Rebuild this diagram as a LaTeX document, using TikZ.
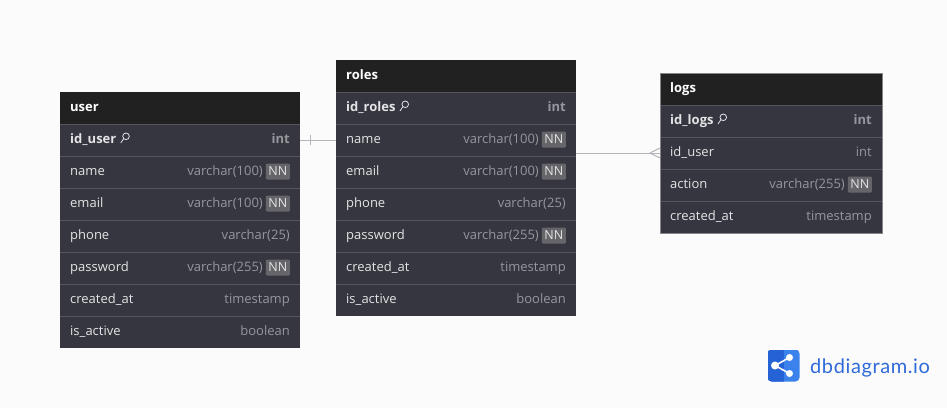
\documentclass[tikz,border=0pt]{standalone}
\usepackage{fontspec}
\setmainfont{Open Sans}
\newfontfamily\logofont{Lato}[LetterSpace=3]
\usetikzlibrary{positioning}

\definecolor{pagebg}{HTML}{FBFBFB}
\definecolor{headbg}{HTML}{212121}
\definecolor{rowbg}{HTML}{363640}
\definecolor{rowline}{HTML}{55555C}
\definecolor{logsedge}{HTML}{85858B}
\definecolor{fieldtext}{HTML}{E4E4E6}
\definecolor{typetext}{HTML}{96969C}
\definecolor{badgebg}{HTML}{66666A}
\definecolor{linkline}{HTML}{B4B4BA}
\definecolor{logodark}{HTML}{2462D6}
\definecolor{logolight}{HTML}{3C82EC}
\definecolor{logotext}{HTML}{2F6BD8}

\tikzset{
  tablehead/.style={fill=headbg, inner sep=0pt, outer sep=0pt, anchor=north west, minimum height=32pt},
  tablerow/.style={fill=rowbg, inner sep=0pt, outer sep=0pt, anchor=north west, minimum height=32pt},
  rowsep/.style={draw=rowline, line width=0.8pt},
  headtext/.style={text=white, font=\fontsize{13}{15}\selectfont\bfseries, inner sep=0pt, anchor=base west},
  fieldplain/.style={text=fieldtext, font=\fontsize{13}{15}\selectfont, inner sep=0pt, anchor=base west},
  fieldkey/.style={text=fieldtext, font=\fontsize{13}{15}\selectfont\bfseries, inner sep=0pt, anchor=base west},
  typeplain/.style={text=typetext, font=\fontsize{13}{15}\selectfont, inner sep=0pt, anchor=base east},
  typekey/.style={text=typetext, font=\fontsize{13}{15}\selectfont\bfseries, inner sep=0pt, anchor=base east},
  nnbadge/.style={fill=badgebg, text=fieldtext, font=\fontsize{12.5}{15}\selectfont, inner sep=0pt, minimum width=24pt, minimum height=16pt, rounded corners=1pt},
  keymark/.style={draw=fieldtext, line width=0.8pt},
  linkpath/.style={draw=linkline, line width=1pt},
  sharedot/.style={circle, fill=white, inner sep=0pt}
}

% small key after a primary field
\newcommand{\keyicon}[1]{
  \draw[keymark] ([xshift=9.5pt,yshift=7.2pt]#1.base east) circle (3.3pt);
  \draw[keymark] ([xshift=7.2pt,yshift=4.9pt]#1.base east) -- ([xshift=4.2pt,yshift=0.5pt]#1.base east);
}

\begin{document}
\begin{tikzpicture}[x=1pt,y=-1pt]

  \fill[pagebg] (0,0) rectangle (947,408);
  \useasboundingbox (0,0) rectangle (947,408);

  % user
  \node[tablehead, minimum width=240pt] (user-0) at (60,92) {};
  \node[headtext] (user-title) at (70,111) {user};
  \foreach \fname/\ftype/\fgap/\fst/\tst [count=\i] in {
    id\_user/int/0/fieldkey/typekey,
    name/varchar(100)/27/fieldplain/typeplain,
    email/varchar(100)/27/fieldplain/typeplain,
    phone/varchar(25)/0/fieldplain/typeplain,
    password/varchar(255)/27/fieldplain/typeplain,
    created\_at/timestamp/0/fieldplain/typeplain,
    is\_active/boolean/0/fieldplain/typeplain}
  {
    \node[tablerow, minimum width=240pt] (user-\i) at (60,92+32*\i) {};
    \draw[rowsep] (user-\i.north west) -- (user-\i.north east);
    \node[\fst] (user-\i-name) at (70,92+32*\i+19.5) {\fname};
    \node[\tst] (user-\i-type) at (290-\fgap,92+32*\i+19.5) {\ftype};
  }
  \foreach \i in {2,3,5}
    \node[nnbadge, anchor=east] (user-\i-nn) at (290,92+32*\i+15.5) {NN};
  \keyicon{user-1-name}

  % roles
  \node[tablehead, minimum width=240pt] (roles-0) at (336,60) {};
  \node[headtext] (roles-title) at (346,79) {roles};
  \foreach \fname/\ftype/\fgap/\fst/\tst [count=\i] in {
    id\_roles/int/0/fieldkey/typekey,
    name/varchar(100)/27/fieldplain/typeplain,
    email/varchar(100)/27/fieldplain/typeplain,
    phone/varchar(25)/0/fieldplain/typeplain,
    password/varchar(255)/27/fieldplain/typeplain,
    created\_at/timestamp/0/fieldplain/typeplain,
    is\_active/boolean/0/fieldplain/typeplain}
  {
    \node[tablerow, minimum width=240pt] (roles-\i) at (336,60+32*\i) {};
    \draw[rowsep] (roles-\i.north west) -- (roles-\i.north east);
    \node[\fst] (roles-\i-name) at (346,60+32*\i+19.5) {\fname};
    \node[\tst] (roles-\i-type) at (566-\fgap,60+32*\i+19.5) {\ftype};
  }
  \foreach \i in {2,3,5}
    \node[nnbadge, anchor=east] (roles-\i-nn) at (566,60+32*\i+15.5) {NN};
  \keyicon{roles-1-name}

  % logs
  \node[tablehead, minimum width=222pt] (logs-0) at (660,73) {};
  \node[headtext] (logs-title) at (670,92) {logs};
  \foreach \fname/\ftype/\fgap/\fst/\tst [count=\i] in {
    id\_logs/int/0/fieldkey/typekey,
    id\_user/int/0/fieldplain/typeplain,
    action/varchar(255)/27/fieldplain/typeplain,
    created\_at/timestamp/0/fieldplain/typeplain}
  {
    \node[tablerow, minimum width=222pt] (logs-\i) at (660,73+32*\i) {};
    \draw[rowsep] (logs-\i.north west) -- (logs-\i.north east);
    \node[\fst] (logs-\i-name) at (670,73+32*\i+19.5) {\fname};
    \node[\tst] (logs-\i-type) at (872-\fgap,73+32*\i+19.5) {\ftype};
  }
  \node[nnbadge, anchor=east] (logs-3-nn) at (872,73+32*3+15.5) {NN};
  \keyicon{logs-1-name}
  \draw[logsedge, line width=0.7pt] (logs-0.north west) rectangle (logs-4.south east);

  % links
  \draw[linkpath] (user-1.east) -- (user-1.east -| roles-2.west);
  \draw[linkpath] ([xshift=10pt,yshift=-5pt]user-1.east) -- ([xshift=10pt,yshift=5pt]user-1.east);
  \coordinate (rolesout) at (roles-2.east |- logs-2.west);
  \draw[linkpath] (rolesout) -- (logs-2.west);
  \draw[linkpath] ([xshift=-10pt]logs-2.west) -- ([yshift=-5pt]logs-2.west);
  \draw[linkpath] ([xshift=-10pt]logs-2.west) -- ([yshift=5pt]logs-2.west);

  % logo
  \begin{scope}
    \clip[rounded corners=4pt] (767.5,349.5) rectangle (799.5,381.5);
    \fill[logolight] (767.5,349.5) rectangle (799.5,381.5);
    \fill[logodark] (767.5,349.5) rectangle (783.5,381.5);
  \end{scope}
  \node[sharedot, minimum size=8pt] (share-a) at (775,365.5) {};
  \node[sharedot, minimum size=7pt] (share-b) at (789.5,357.5) {};
  \node[sharedot, minimum size=7pt] (share-c) at (789.5,373.5) {};
  \draw[white, line width=1.6pt] (share-b.center) -- (share-a.center) -- (share-c.center);
  \node[text=logotext, font=\logofont\fontsize{20}{22}\selectfont, inner sep=0pt, anchor=base west] (logo-text) at (810,373) {dbdiagram.io};

\end{tikzpicture}
\end{document}
